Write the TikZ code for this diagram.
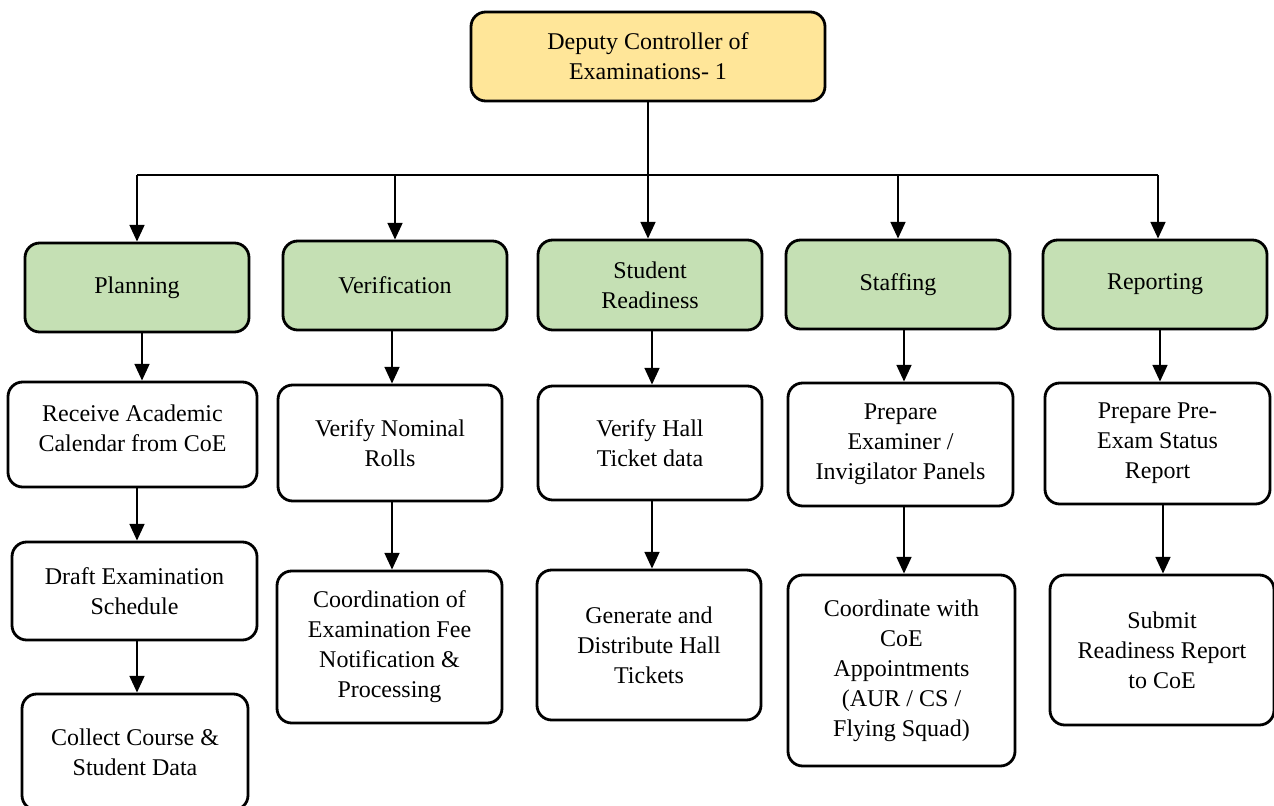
\documentclass[tikz,border=0pt]{standalone}
\usepackage{fontspec}
\setmainfont{Liberation Serif}
\usetikzlibrary{arrows.meta}
\definecolor{topfill}{HTML}{FFE699}
\definecolor{grpfill}{HTML}{C5E0B4}
\begin{document}
\begin{tikzpicture}[x=0.75pt,y=-0.75pt]
\tikzset{
 base/.style={draw, line width=2.1pt, rounded corners=11pt, align=center, inner sep=0pt,
   font=\fontsize{18}{22.5}\selectfont},
 sz/.style 2 args={minimum width=#1*0.75pt, minimum height=#2*0.75pt},
 topbox/.style={base, fill=topfill},
 grpbox/.style={base, fill=grpfill},
 taskbox/.style={base, fill=white},
 arr/.style={line width=1.9pt, -{Triangle[width=11pt,length=12.5pt]}},
 ln/.style={line width=1.9pt}
}
\useasboundingbox (0,0) rectangle (1274,806);
\fill[white] (0,0) rectangle (1274,806);

% top
\node[topbox, sz={354}{89}] (dce) at (648,56.5) {Deputy Controller of\\Examinations- 1};

% groups
\node[grpbox, sz={224}{89}] (plan) at (137,287.5) {Planning};
\node[grpbox, sz={224}{89}] (ver)  at (395,285.5) {Verification};
\node[grpbox, sz={224}{90}] (stu)  at (650,285) {Student\\Readiness};
\node[grpbox, sz={224}{89}] (staff) at (898,284.5) {Staffing};
\node[grpbox, sz={224}{89}] (rep) at (1155,284.5) {Reporting};

% tasks
\node[taskbox, sz={249}{105}] (recv) at (132.5,434.5) {Receive Academic\\Calendar from CoE\\[-13.5pt]};
\node[taskbox, sz={245}{98}] (draft) at (134.5,591) {Draft Examination\\Schedule};
\node[taskbox, sz={226}{116}] (coll) at (135,752) {Collect Course \&\\Student Data};

\node[taskbox, sz={224}{116}] (vnom) at (390,443) {Verify Nominal\\Rolls};
\node[taskbox, sz={225}{152}] (coord) at (389.5,647) {Coordination of\\Examination Fee\\Notification \&\\Processing};

\node[taskbox, sz={224}{114}] (vhall) at (650,443) {Verify Hall\\Ticket data};
\node[taskbox, sz={224}{150}] (gen) at (649,645) {Generate and\\Distribute Hall\\Tickets};

\node[taskbox, sz={225}{123}] (pexam) at (900.5,444.5) {Prepare\\Examiner /\\Invigilator Panels};
\node[taskbox, sz={227}{191}] (coe) at (901.5,670.5) {Coordinate with\\CoE\\Appointments\\(AUR / CS /\\Flying Squad)};

\node[taskbox, sz={225}{121}] (pre) at (1157.5,443.5) {Prepare Pre-\\Exam Status\\Report};
\node[taskbox, sz={224}{150}] (sub) at (1162,650) {Submit\\Readiness Report\\to CoE};

% bus
\coordinate (busL) at (137,175);
\coordinate (busR) at (1158,175);
\draw[arr] (dce.south) -- (dce.south |- stu.north);
\draw[ln] (busL) -- (busR);
\draw[arr] (busL) -- (busL |- plan.north);
\draw[arr] (ver.north |- busL) -- (ver.north);
\draw[arr] (staff.north |- busL) -- (staff.north);
\draw[arr] (busR) -- (busR |- rep.north);

% vertical chains
\draw[arr] ([xshift=5*0.75pt]plan.south) -- ([xshift=5*0.75pt]plan.south |- recv.north);
\draw[arr] ([xshift=4.5*0.75pt]recv.south) -- ([xshift=4.5*0.75pt]recv.south |- draft.north);
\draw[arr] ([xshift=2.5*0.75pt]draft.south) -- ([xshift=2.5*0.75pt]draft.south |- coll.north);

\draw[arr] ([xshift=-3*0.75pt]ver.south) -- ([xshift=-3*0.75pt]ver.south |- vnom.north);
\draw[arr] ([xshift=2*0.75pt]vnom.south) -- ([xshift=2*0.75pt]vnom.south |- coord.north);

\draw[arr] ([xshift=2*0.75pt]stu.south) -- ([xshift=2*0.75pt]stu.south |- vhall.north);
\draw[arr] ([xshift=2*0.75pt]vhall.south) -- ([xshift=2*0.75pt]vhall.south |- gen.north);

\draw[arr] ([xshift=6*0.75pt]staff.south) -- ([xshift=6*0.75pt]staff.south |- pexam.north);
\draw[arr] ([xshift=3.5*0.75pt]pexam.south) -- ([xshift=3.5*0.75pt]pexam.south |- coe.north);

\draw[arr] ([xshift=5*0.75pt]rep.south) -- ([xshift=5*0.75pt]rep.south |- pre.north);
\draw[arr] ([xshift=5.5*0.75pt]pre.south) -- ([xshift=5.5*0.75pt]pre.south |- sub.north);
\end{tikzpicture}
\end{document}
